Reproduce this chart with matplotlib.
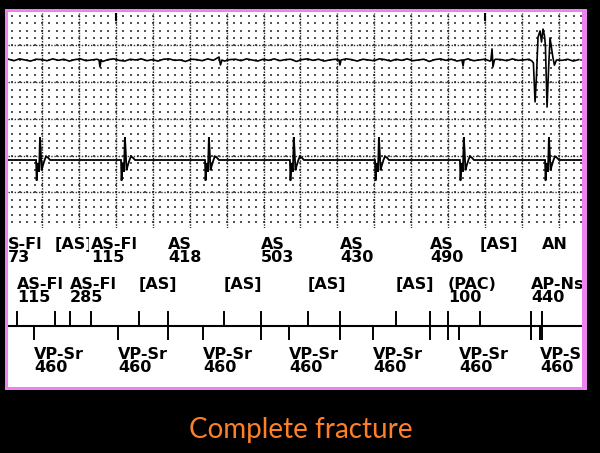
import numpy as np
import matplotlib
matplotlib.use("Agg")
import matplotlib.pyplot as plt
from matplotlib.patches import Rectangle

# time in seconds (big box = 200 ms), amplitude in small boxes
t_left, t_right = 0.0158, 3.1253

# ventricular channel: onset of each paced complex
v_beats = [0.168, 0.628, 1.083, 1.543, 2.004, 2.464, 2.925]
# shape of one paced complex (offset in s, deflection)
qrs_dt = [-0.005, 0.0, 0.003, 0.008, 0.016, 0.021, 0.025, 0.030, 0.036, 0.046, 0.054, 0.065, 0.076]
qrs_amp = [0, 0, -2.8, -0.4, -1.6, 3.1, 1.4, -1.4, -0.8, 0, 0.5, 0.3, 0]

# atrial channel: baseline ripple, one value every 30 ms
a_t0, a_step = 0.018, 0.03
a_noise = [0.1, -0.1, 0.15, 0.0, -0.15, 0.1, 0.05, -0.1, 0.15, -0.05, 0.1, -0.15, 0.05,
           0.15, -0.1, 0.0, 0.1, -0.2, 0.05, 0.15, -0.05, -0.15, 0.1, 0.0, 0.15, -0.1,
           0.05, -0.15, 0.1, 0.15, -0.05, 0.0, -0.2, 0.1, 0.05, -0.1, 0.15, -0.05, 0.1,
           -0.15, 0.05, 0.1, -0.1, 0.15, 0.0, -0.15, 0.1, -0.05, 0.15, -0.1, 0.05, 0.1,
           -0.2, 0.05, 0.15, -0.05, 0.1, -0.15, 0.0, 0.1, -0.1, 0.15, 0.05, -0.15, 0.1,
           0.0, -0.1, 0.15, 0.05, -0.15, 0.1, -0.05, 0.15, -0.1, 0.0, 0.1, -0.2, 0.05,
           0.15, -0.05, 0.1, -0.15, 0.05, 0.15, -0.1, 0.0, 0.1, -0.15, 0.1, 0.05, -0.1,
           0.15, -0.05, 0.0, 0.1, -0.15, 0.1, 0.05, -0.1, 0.15, -0.05, 0.1, -0.15, 0.05]
# atrial deflections (small spikes and the lead-fracture noise burst)
a_event_t = [
    [0.509, 0.514, 0.520],
    [1.159, 1.167, 1.175],
    [1.809, 1.814, 1.820],
    [2.475, 2.481, 2.486],
    [2.632, 2.638, 2.643, 2.651],
    [2.854, 2.862, 2.871, 2.879, 2.887, 2.898, 2.906, 2.914, 2.922, 2.927,
     2.936, 2.944, 2.952, 2.960, 2.968, 2.976, 2.987],
]
a_event_amp = [
    [0, -0.95, 0],
    [0.4, -0.68, 0],
    [0, -0.68, 0],
    [0, -0.82, 0],
    [0, 1.5, -0.95, 0],
    [-0.14, -0.41, -5.7, -2.0, 3.1, 3.95, 2.45, 4.2, 3.3, 2.0,
     -6.4, -1.4, 3.0, 1.6, 0.3, -0.7, 0],
]

# marker channel
a_times = [0.065, 0.270, 0.352, 0.465, 0.725, 0.883, 1.186, 1.386, 1.641,
           1.814, 2.118, 2.302, 2.399, 2.573, 2.849, 2.909]
a_labels = ["AS-Fl\n115", "[AS]", "AS-Fl\n285", "AS-Fl\n115", "[AS]", "AS\n418",
            "[AS]", "AS\n503", "[AS]", "AS\n430", "[AS]", "AS\n490",
            "(PAC)\n100", "[AS]", "AP-Ns\n440", "AN"]
a_rows = [2, 1, 2, 1, 2, 1, 2, 1, 2, 1, 2, 1, 2, 1, 2, 1]
a_long = [False, False, False, False, False, True, False, True, False,
          True, False, True, True, False, True, True]
first_label = "S-Fl\n73"
v_times = [0.157, 0.612, 1.073, 1.538, 1.993, 2.459, 2.900]
v_labels = ["VP-Sr\n460"] * 7

title = "Complete fracture"

W, H = 600, 453
fig = plt.figure(figsize=(6, 4.53), dpi=100, facecolor="black")

def fx(px):
    return px / W

def fy(py):
    return 1 - py / H

fig.patches.append(Rectangle((fx(5), fy(390)), fx(582), 381 / H, transform=fig.transFigure,
                             fc="#EE82EE", ec="none", zorder=-2))
fig.patches.append(Rectangle((fx(8), fy(387)), fx(574), 375 / H, transform=fig.transFigure,
                             fc="white", ec="none", zorder=-1))

# ---- signal panel with ECG paper grid
ax = fig.add_axes([fx(8), fy(228), fx(574), 215 / H])
ax.set_xlim(t_left, t_right)
ax.set_ylim(-14.83, 14.42)
ax.axis("off")

gx = np.arange(0.04, t_right, 0.04)
gy = np.arange(-14, 15)
GX, GY = np.meshgrid(gx, gy)
ax.scatter(GX.ravel(), GY.ravel(), s=1.2, marker="s", color="#555555", lw=0)
for x in np.arange(0.2, t_right, 0.2):
    ax.axvline(x, ls=(0, (1, 1)), lw=1.0, color="#222222")
for y in [-10, -5, 0, 5, 10]:
    ax.axhline(y, ls=(0, (1, 1.2)), lw=1.0, color="#333333")
for x in [0.6, 2.6]:
    ax.plot([x, x], [14.42, 13.5], color="black", lw=1.5)

a_base, v_base = 8.03, -5.58

# ventricular trace
vt = [t_left]
vv = [0.0]
for b in v_beats:
    vt += [b + d for d in qrs_dt]
    vv += qrs_amp
vt.append(t_right)
vv.append(0.0)
ax.plot(vt, np.array(vv) + v_base, color="black", lw=1.3, solid_joinstyle="miter")

# atrial trace
pts = []
spans = [(g[0] - 0.004, g[-1] + 0.004) for g in a_event_t]
for i, n in enumerate(a_noise):
    t = a_t0 + a_step * i
    if any(lo <= t <= hi for lo, hi in spans):
        continue
    pts.append((t, n))
for ts, amps in zip(a_event_t, a_event_amp):
    pts += list(zip(ts, amps))
pts.sort()
at, av = zip(*pts)
ax.plot(at, np.array(av) + a_base, color="black", lw=1.2)

# ---- marker channel (1 unit = 13 px)
mk = fig.add_axes([fx(8), fy(387), fx(574), 159 / H])
mk.set_xlim(t_left, t_right)
mk.set_ylim(-4.69, 7.54)
mk.axis("off")
mk.axhline(0, color="black", lw=1.5)

font = dict(family="DejaVu Sans", fontweight="bold", fontsize=11.5, color="black",
            linespacing=0.84, va="top", ha="left", clip_on=True)
box = dict(fc="white", ec="none", pad=1)
row_y = {1: 6.85, 2: 3.8}

mk.text(t_left, row_y[1], first_label, bbox=box, **font)
for t, lab, r, lg in zip(a_times, a_labels, a_rows, a_long):
    mk.plot([t, t], [-1 if lg else 0, 1.08], color="black", lw=1.4)
    mk.text(t, row_y[r], lab, bbox=box, **font)
for t, lab in zip(v_times, v_labels):
    mk.plot([t, t], [0, -1], color="black", lw=1.4)
    mk.text(t, -1.62, lab, bbox=box, **font)

fig.text(fx(301), fy(430), title, ha="center", va="center", color="#FF7F27",
         fontsize=20, family="Lato")

fig.savefig("out.png", dpi=100, facecolor="black")
